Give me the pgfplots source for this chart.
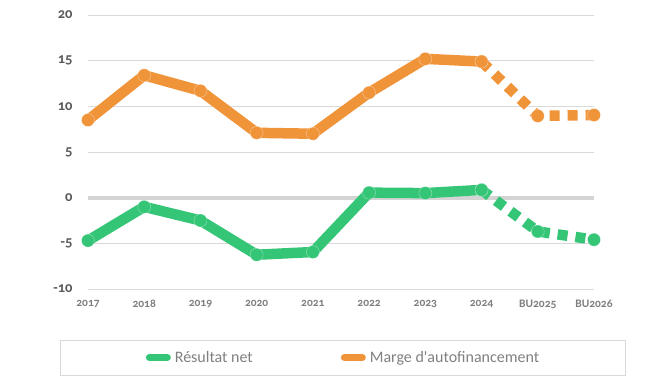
\documentclass[border=0pt]{standalone}
\usepackage{fontspec}
\setmainfont{Carlito}
\newfontfamily\numfont{Carlito}[Numbers=OldStyle]
\usepackage{pgfplots}
\pgfplotsset{compat=1.18}
\definecolor{cgreen}{HTML}{35C577}
\definecolor{corange}{HTML}{F0943A}
\definecolor{cgrid}{HTML}{D9D9D9}
\definecolor{czero}{HTML}{D4D4D4}
\definecolor{ctickx}{HTML}{7F7F7F}
\definecolor{cticky}{HTML}{595959}
\definecolor{clegend}{HTML}{808080}
\begin{document}
\begin{tikzpicture}
\useasboundingbox (0,0) rectangle (670pt,386pt);
\draw[cgrid, line width=0.8pt] (60pt,11pt) rectangle (625pt,46pt);
\begin{axis}[
  at={(88pt,97pt)}, anchor=south west,
  scale only axis, width=506pt, height=274pt,
  xmin=0, xmax=9, ymin=-10, ymax=20,
  clip=false,
  axis line style={draw=none},
  major tick length=0pt,
  xtick={0,...,9},
  xticklabels={2017,2018,2019,2020,2021,2022,2023,2024,BU2025,BU2026},
  ytick={-10,-5,0,5,10,15,20},
  yticklabels={-10,-5,0,5,10,15,20},
  ymajorgrids, grid style={cgrid, line width=0.9pt},
  xticklabel style={font=\fontsize{11.5}{13}\selectfont\numfont\bfseries, text=ctickx, yshift=-8pt},
  yticklabel style={font=\fontsize{14.5}{16}\selectfont\numfont\bfseries, text=cticky, xshift=-12pt},
  legend columns=2,
  legend style={draw=none, fill=none, at={(0.505,-0.25)}, anchor=center,
    font=\fontsize{16}{18}\selectfont, text=clegend,
    /tikz/every even column/.append style={column sep=86pt},
    /tikz/every odd column/.append style={column sep=2pt}},
  legend image code/.code={\draw[#1, solid, line width=7pt, line cap=round] (0pt,0pt) -- (18pt,0pt);},
  every axis plot/.append style={line width=10.5pt, line join=round},
]
\addplot[czero, line width=4pt, forget plot] coordinates {(0,0) (9,0)};
\addplot[cgreen, mark=*, mark size=6.5pt, mark options={fill=cgreen, draw=white, draw opacity=0.35, line width=0.6pt}]
  coordinates {(0,-4.7) (1,-1.0) (2,-2.5) (3,-6.25) (4,-5.95) (5,0.55) (6,0.5) (7,0.85)};
\addlegendentry{Résultat net}
\addplot[corange, mark=*, mark size=6.5pt, mark options={fill=corange, draw=white, draw opacity=0.35, line width=0.6pt}]
  coordinates {(0,8.5) (1,13.4) (2,11.7) (3,7.1) (4,7.0) (5,11.5) (6,15.2) (7,14.9)};
\addlegendentry{Marge d\textquotesingle autofinancement}
\addplot[cgreen, dash pattern=on 10pt off 8pt, mark=*, mark size=6.5pt, mark options={solid, fill=cgreen, draw=white, draw opacity=0.35, line width=0.6pt}, forget plot]
  coordinates {(7,0.85) (8,-3.7) (9,-4.6)};
\addplot[corange, dash pattern=on 10pt off 8pt, mark=*, mark size=6.5pt, mark options={solid, fill=corange, draw=white, draw opacity=0.35, line width=0.6pt}, forget plot]
  coordinates {(7,14.9) (8,8.95) (9,9.05)};
\end{axis}
\end{tikzpicture}
\end{document}
